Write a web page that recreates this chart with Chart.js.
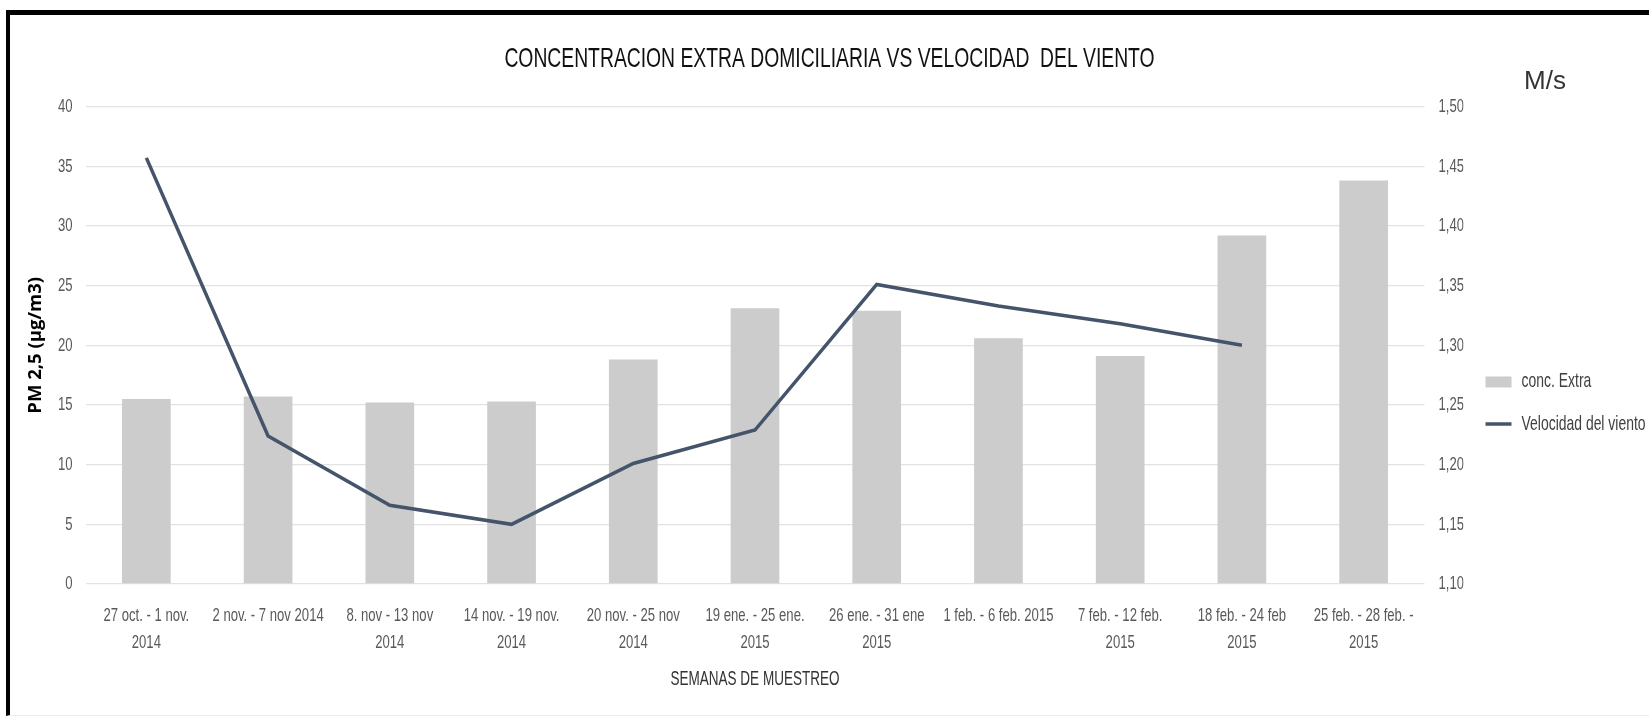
<!DOCTYPE html>
<html>
<head>
<meta charset="utf-8">
<title>Concentración extra domiciliaria vs velocidad del viento</title>
<script src="https://cdn.jsdelivr.net/npm/chart.js@4.4.1/dist/chart.umd.min.js"></script>
<style>
  html, body { margin: 0; padding: 0; background: #fff; overflow: hidden; }
  body { width: 1649px; height: 720px; position: relative; }
  #frame {
    position: absolute; left: 6px; top: 10px; width: 1639px; height: 700px;
    border-top: 5px solid #000; border-left: 4px solid #000; border-bottom: 1px solid #ececec;
  }
  #unit {
    position: absolute; left: 1524px; top: 67px;
    font: 26px/26px "Liberation Sans", Arial, sans-serif; color: #333;
  }
</style>
</head>
<body>
<div id="frame">
  <canvas id="chart" width="1639" height="700"></canvas>
</div>
<div id="unit">M/s</div>

<script>
// weeks of sampling (x categories)
const weeks = [
  ["27 oct. - 1 nov.", "2014"],
  ["2 nov. - 7 nov 2014"],
  ["8. nov - 13 nov", "2014"],
  ["14 nov. - 19 nov.", "2014"],
  ["20 nov. - 25 nov", "2014"],
  ["19 ene. - 25 ene.", "2015"],
  ["26 ene. - 31 ene", "2015"],
  ["1 feb. - 6 feb. 2015"],
  ["7 feb. - 12 feb.", "2015"],
  ["18 feb. - 24 feb", "2015"],
  ["25 feb. - 28 feb. -", "2015"]
];

// PM 2,5 outdoor concentration (µg/m3)
const concExtra = [15.5, 15.7, 15.2, 15.3, 18.8, 23.1, 22.9, 20.6, 19.1, 29.2, 33.8];

// wind speed (m/s), no value for the last week
const windSpeed = [1.457, 1.224, 1.166, 1.150, 1.201, 1.229, 1.351, 1.333, 1.318, 1.300, null];

// axis ticks
const pmTicks = [0, 5, 10, 15, 20, 25, 30, 35, 40];
const windTicks = [1.10, 1.15, 1.20, 1.25, 1.30, 1.35, 1.40, 1.45, 1.50];

const narrow = "'Liberation Sans', Arial, sans-serif";
const tickGrey = "#595959";

const ctx = document.getElementById("chart").getContext("2d");

// the original uses a tall condensed Office font; no such font is installed,
// so Liberation Sans text is squeezed horizontally when drawn and measured
const squeeze = 0.69;
const baseFill = ctx.fillText.bind(ctx);
const baseMeasure = ctx.measureText.bind(ctx);
const isNarrow = () => ctx.font.indexOf("Liberation") >= 0;
ctx.fillText = function (text, x, y, maxWidth) {
  if (!isNarrow()) return baseFill(text, x, y);
  ctx.save();
  ctx.translate(x, y);
  ctx.scale(squeeze, 1);
  baseFill(text, 0, 0);
  ctx.restore();
};
ctx.measureText = function (text) {
  const m = baseMeasure(text);
  if (!isNarrow()) return m;
  return {
    width: m.width * squeeze,
    actualBoundingBoxLeft: m.actualBoundingBoxLeft * squeeze,
    actualBoundingBoxRight: m.actualBoundingBoxRight * squeeze,
    actualBoundingBoxAscent: m.actualBoundingBoxAscent,
    actualBoundingBoxDescent: m.actualBoundingBoxDescent
  };
};

new Chart(ctx, {
  type: "bar",
  data: {
    labels: weeks,
    datasets: [
      {
        label: "conc. Extra",
        data: concExtra,
        yAxisID: "y",
        backgroundColor: "#cdcccd",
        borderWidth: 0,
        categoryPercentage: 1,
        barPercentage: 0.4,
        pointStyle: "rect",
        order: 1
      },
      {
        type: "line",
        label: "Velocidad del viento",
        data: windSpeed,
        yAxisID: "y1",
        borderColor: "#44546a",
        backgroundColor: "#44546a",
        borderWidth: 3.5,
        pointRadius: 0,
        pointStyle: "line",
        tension: 0,
        spanGaps: false,
        order: 0
      }
    ]
  },
  options: {
    responsive: false,
    animation: false,
    layout: { padding: 0 },
    plugins: {
      title: {
        display: true,
        text: "CONCENTRACION EXTRA DOMICILIARIA VS VELOCIDAD  DEL VIENTO",
        color: "#111",
        font: { family: narrow, size: 28, weight: "normal" },
        padding: { top: 27, bottom: 31 }
      },
      legend: {
        position: "right",
        maxWidth: 185.5,
        title: { display: true, text: "", font: { size: 10 }, padding: { top: 32, bottom: 32 } },
        labels: {
          usePointStyle: true,
          pointStyleWidth: 26,
          boxHeight: 11,
          padding: 22,
          color: "#404040",
          font: { family: narrow, size: 20.2 },
          sort: (a, b) => a.datasetIndex - b.datasetIndex
        }
      },
      tooltip: { enabled: false }
    },
    scales: {
      x: {
        grid: { display: false },
        border: { display: false },
        ticks: {
          color: tickGrey,
          font: { family: narrow, size: 19, lineHeight: "27px" },
          padding: 10,
          maxRotation: 0,
          autoSkip: false
        },
        title: {
          display: true,
          text: "SEMANAS DE MUESTREO",
          color: "#333",
          font: { family: narrow, size: 19.6 },
          padding: { top: 0, bottom: 24 }
        },
        afterFit: s => { s.height = 131; }
      },
      y: {
        position: "left",
        min: 0,
        max: 40,
        afterBuildTicks: s => { s.ticks = pmTicks.map(v => ({ value: v })); },
        grid: { color: "#e2e2e2", lineWidth: 1.3, drawTicks: false },
        border: { display: false },
        ticks: {
          color: tickGrey,
          font: { family: narrow, size: 19 },
          padding: 13
        },
        title: {
          display: true,
          text: "PM 2,5 (µg/m3)",
          color: "#000",
          font: { family: "'Open Sans', sans-serif", size: 18.5, weight: "bold" },
          padding: { top: 15, bottom: 0 }
        },
        afterFit: s => { s.width = 75.5; }
      },
      y1: {
        position: "right",
        min: 1.10,
        max: 1.50,
        afterBuildTicks: s => { s.ticks = windTicks.map(v => ({ value: v })); },
        grid: { display: false, drawTicks: false },
        border: { display: false },
        ticks: {
          color: tickGrey,
          font: { family: narrow, size: 19 },
          padding: 14,
          callback: v => Number(v).toFixed(2).replace(".", ",")
        },
        afterFit: s => { s.width = 39; }
      }
    }
  }
});
</script>
</body>
</html>
